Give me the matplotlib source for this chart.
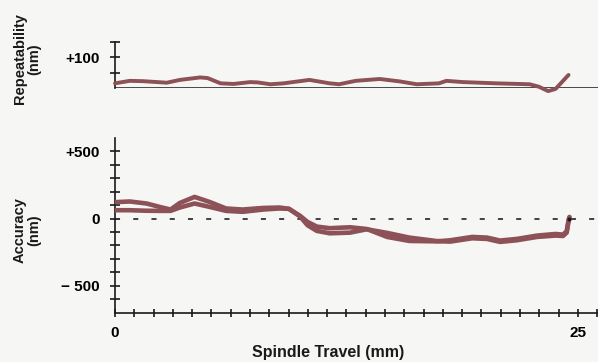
import numpy as np
import matplotlib
matplotlib.use('Agg')
import matplotlib.pyplot as plt

# ── данни (отчетени от графиката) ──
rep_x = [0, 0.8, 1.5, 2.8, 3.5, 4.6, 5.0, 5.7, 6.4, 7.3, 7.7, 8.4, 9.1, 10.5,
         11.6, 12.1, 13.0, 14.3, 15.4, 16.3, 17.5, 17.9, 18.8, 20.6, 22.4,
         22.9, 23.4, 23.8, 24.5]
rep_y = [16, 24, 23, 18, 27, 35, 33, 16, 14, 20, 19, 13, 16, 27,
         16, 13, 24, 30, 22, 13, 16, 24, 20, 16, 13,
         5, -9, -2, 43]

acc_x = [0, 0.8, 1.7, 2.4, 3.0, 3.5, 4.3, 5.1, 6.0, 6.9, 8.0, 8.9, 9.4, 10.0,
         10.4, 10.9, 11.6, 12.7, 13.6, 14.7, 15.9, 17.4, 18.1, 19.3, 20.1,
         20.8, 21.7, 22.8, 23.8, 24.2, 24.4, 24.5, 24.55]
acc_a = [122, 127, 112, 87, 67, 116, 161, 124, 75, 67, 79, 82, 72, 20,
         -25, -60, -72, -65, -78, -137, -167, -170, -162, -137, -142,
         -164, -152, -127, -115, -120, -95, -13, 12]
acc_b = [62, 62, 58, 57, 57, 82, 112, 87, 57, 50, 67, 75, 72, 15,
         -50, -92, -110, -105, -80, -107, -142, -168, -172, -147, -152,
         -174, -162, -137, -127, -130, -105, -20, 5]

x_ticks = np.arange(0, 26) * 25 / 24
x_labels = ['0'] + [''] * 23 + ['25', '']

BG = '#f6f6f4'
LINE = '#8c5257'
INK = '#1a1a1a'

plt.rcParams['font.family'] = ['Liberation Sans', 'DejaVu Sans']
plt.rcParams['font.weight'] = 'bold'

fig = plt.figure(figsize=(5.98, 3.62), dpi=100, facecolor=BG)

# ── горен панел: Repeatability ──
ax1 = fig.add_axes([115 / 598, 1 - 88.3 / 362, 483 / 598, 46.6 / 362])
ax1.set_facecolor('none')
ax1.plot(rep_x, rep_y, color=LINE, lw=2.8, solid_joinstyle='round',
         solid_capstyle='round', clip_on=False, zorder=3)
ax1.axhline(0, color=INK, lw=1.1, zorder=2)
ax1.set_xlim(0, x_ticks[-1] + 0.05)
ax1.set_ylim(0, 150)
for s in ['top', 'right', 'bottom']:
    ax1.spines[s].set_visible(False)
ax1.spines['left'].set_color(INK)
ax1.spines['left'].set_linewidth(1.2)
ax1.set_xticks([])
ax1.set_yticks([50, 100, 150])
ax1.set_yticklabels(['', '+100', ''])
ax1.tick_params(axis='y', direction='inout', length=7.5, width=1.2,
                color=INK, pad=7, labelsize=11)

# ── долен панел: Accuracy ──
ax2 = fig.add_axes([115 / 598, 1 - 312.5 / 362, 483 / 598, 174.5 / 362])
ax2.set_facecolor('none')
ax2.plot(acc_x, acc_a, color=LINE, lw=3.3, solid_joinstyle='round',
         solid_capstyle='round', zorder=3)
ax2.plot(acc_x, acc_b, color=LINE, lw=3.3, solid_joinstyle='round',
         solid_capstyle='round', zorder=3)
ax2.plot([acc_x[-1]], [0], 'o', color=INK, ms=2, zorder=4)
zero = ax2.axhline(0, color='#333333', lw=1.3, zorder=2)
zero.set_dashes((2.8, 7.3))
ax2.set_xlim(0, x_ticks[-1] + 0.05)
ax2.set_ylim(-700, 600)
for s in ['top', 'right']:
    ax2.spines[s].set_visible(False)
for s in ['left', 'bottom']:
    ax2.spines[s].set_color(INK)
    ax2.spines[s].set_linewidth(1.2)
y_ticks = list(range(-600, 501, 100))
y_names = {500: '+500', 0: '0', -500: '\u2212 500'}
ax2.set_yticks(y_ticks)
ax2.set_yticklabels([y_names.get(v, '') for v in y_ticks])
ax2.set_xticks(x_ticks)
ax2.set_xticklabels(x_labels)
ax2.tick_params(axis='y', direction='inout', length=7.5, width=1.2,
                color=INK, pad=7, labelsize=11)
ax2.tick_params(axis='x', direction='inout', length=6, width=1.2,
                color=INK, pad=7, labelsize=11)

# ── надписи на осите ──
fig.text(27 / 598, 1 - 59 / 362, 'Repeatability\n(nm)', rotation=90,
         ha='center', va='center', fontsize=10.5, fontweight='bold',
         linespacing=1.0, color=INK)
fig.text(27 / 598, 1 - 230 / 362, 'Accuracy\n(nm)', rotation=90,
         ha='center', va='center', fontsize=10.5, fontweight='bold',
         linespacing=1.0, color=INK)
fig.text(328 / 598, 1 - 352 / 362, 'Spindle Travel (mm)',
         ha='center', va='center', fontsize=11.5, fontweight='bold',
         color=INK)

plt.savefig('out.png', dpi=100, facecolor=BG)
plt.close()
